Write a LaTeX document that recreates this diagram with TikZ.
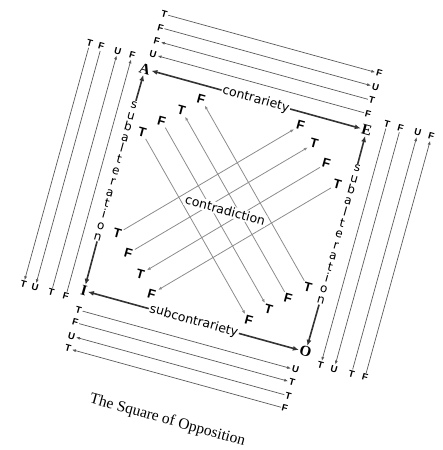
\documentclass[tikz,border=0pt]{standalone}
\usepackage{fontspec}
\setmainfont{Liberation Serif}
\newfontfamily\tvfont{Liberation Sans}
\newfontfamily\relfont{DejaVu Sans}
\usetikzlibrary{arrows.meta}

\begin{document}
\begin{tikzpicture}[x=1pt,y=1pt,
  corner/.style={font=\bfseries\fontsize{15}{15}\selectfont,inner sep=1pt},
  tv/.style={font=\tvfont\bfseries\fontsize{9.5}{9.5}\selectfont,inner sep=1pt},
  dv/.style={font=\tvfont\bfseries\fontsize{13}{13}\selectfont,inner sep=1pt},
  rel/.style={font=\relfont\fontsize{12.5}{12.5}\selectfont,fill=white,inner sep=1pt},
  stack/.style={font=\relfont\fontsize{12}{11.4}\selectfont,align=center,fill=white,inner sep=1pt},
  outer/.style={draw=black!65,line width=0.7pt,-{Latex[length=4pt,width=3pt]}},
  diag/.style={draw=black!45,line width=0.8pt,-{Latex[length=4pt,width=3pt]}},
  side/.style={draw=black!80,line width=1.6pt,-{Latex[length=6pt,width=5pt]}}]
\useasboundingbox (0,0) rectangle (442,-450);
\begin{scope}[shift={(145,-69)},rotate=-15.4,transform shape]
% corners of the square
\node[corner] (A) at (0,0) {A};
\node[corner] (E) at (230,0) {E};
\node[corner] (I) at (0,-230) {I};
\node[corner] (O) at (230,-230) {O};
% A -- E
\foreach \y/\a/\b/\from/\to [count=\k] in {58/T/F/l/r,44/F/U/l/r,30/F/T/r/l,16/U/F/r/l} {
   \node[tv] (tl\k) at (4,\y) {\a};
   \node[tv] (tr\k) at (227,\y) {\b};
   \draw[outer] (t\from\k) -- (t\to\k);
}
% I -- O
\foreach \y/\a/\b/\from/\to [count=\k] in {250/T/U/l/r,263/F/T/l/r,277/U/T/r/l,290/T/F/r/l} {
   \node[tv] (bl\k) at (0,-\y) {\a};
   \node[tv] (br\k) at (225,-\y) {\b};
   \draw[outer] (b\from\k) -- (b\to\k);
}
% A -- I
\foreach \x/\a/\b/\from/\to [count=\k] in {-60/T/T/t/b,-48/F/U/t/b,-31/U/T/b/t,-16/F/F/b/t} {
   \node[tv] (lt\k) at (\x,10) {\a};
   \node[tv] (lb\k) at (\x,-240) {\b};
   \draw[outer] (l\from\k) -- (l\to\k);
}
% E -- O
\foreach \x/\a/\b/\from/\to [count=\k] in {248/T/T/t/b,262/F/U/t/b,280/U/T/b/t,294/F/F/b/t} {
   \node[tv] (rt\k) at (\x,11) {\a};
   \node[tv] (rb\k) at (\x,-239) {\b};
   \draw[outer] (r\from\k) -- (r\to\k);
}
% A -- O
\foreach \ua/\va/\a/\uo/\vo/\b/\from/\to [count=\k] in %
{14/62/T/167/215/F/a/o,30/46/F/183/199/T/a/o,46/30/T/199/183/F/o/a,62/14/F/215/167/T/o/a} {
   \node[dv] (da\k) at (\ua,-\va) {\a};
   \node[dv] (do\k) at (\uo,-\vo) {\b};
   \draw[diag] (d\from\k) -- (d\to\k);
}
% I -- E
\foreach \ui/\vi/\a/\ue/\ve/\b/\from/\to [count=\k] in %
{17/166/T/165/13/F/i/e,33/182/F/183/27/T/i/e,50/199/T/200/43/F/e/i,66/215/F/216/60/T/e/i} {
   \node[dv] (di\k) at (\ui,-\vi) {\a};
   \node[dv] (de\k) at (\ue,-\ve) {\b};
   \draw[diag] (d\from\k) -- (d\to\k);
}
\node[rel] (contra) at (115,-115) {contradiction};
\node[rel] (contr) at (115,0) {contrariety};
\node[rel] (subc) at (114,-230) {subcontrariety};
\node[stack] (subl) at (-1,-106) {s\\u\\b\\a\\l\\t\\e\\r\\a\\t\\i\\o\\n};
\node[stack] (subr) at (231,-108) {s\\u\\b\\a\\l\\t\\e\\r\\a\\t\\i\\o\\n};
\draw[side] (contr) -- (A);
\draw[side] (contr) -- (E);
\draw[side] (subc) -- (I);
\draw[side] (subc) -- (O);
\draw[side] (subl) -- (A);
\draw[side] (subl) -- (I);
\draw[side] (subr) -- (E);
\draw[side] (subr) -- (O);
\node[font=\fontsize{15.5}{16}\selectfont] (title) at (115,-333) {The Square of Opposition};
\end{scope}
\end{tikzpicture}
\end{document}
